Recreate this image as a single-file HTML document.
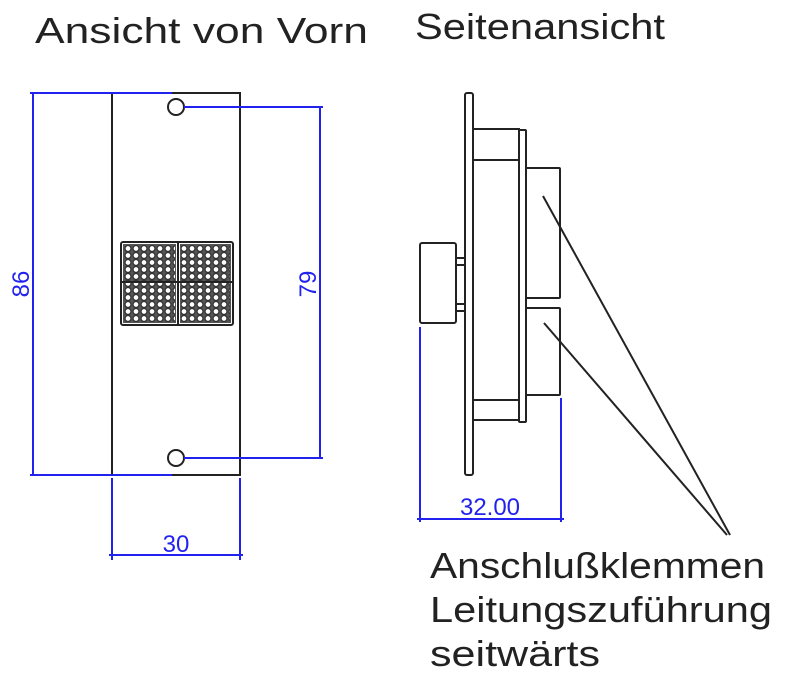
<!DOCTYPE html>
<html><head><meta charset="utf-8"><style>html,body{margin:0;padding:0;background:#fff}svg{display:block}</style></head>
<body>
<svg width="785" height="678" viewBox="0 0 785 678" xmlns="http://www.w3.org/2000/svg" font-family="Liberation Sans, sans-serif">
<g font-size="36" fill="#222">
<text x="35" y="43" textLength="333" lengthAdjust="spacingAndGlyphs">Ansicht von Vorn</text>
<text x="415" y="39" textLength="250" lengthAdjust="spacingAndGlyphs">Seitenansicht</text>
<text x="430" y="578" textLength="335" lengthAdjust="spacingAndGlyphs">Anschlußklemmen</text>
<text x="430" y="622" textLength="342" lengthAdjust="spacingAndGlyphs">Leitungszuführung</text>
<text x="430" y="666" textLength="170" lengthAdjust="spacingAndGlyphs">seitwärts</text>
</g>
<g stroke="#222" stroke-width="2" fill="none">
<rect x="112" y="93" width="128" height="382"/>
<circle cx="176" cy="107" r="8"/>
<circle cx="176" cy="458" r="8"/>
<rect x="121" y="242" width="112" height="83" rx="2"/>
<line x1="178" y1="242" x2="178" y2="325"/>
<line x1="121" y1="282" x2="233" y2="282"/>
</g>
<defs><pattern id="dots" x="124" y="245" width="8" height="7" patternUnits="userSpaceOnUse"><circle cx="4" cy="3.5" r="3" fill="#fff" stroke="#333" stroke-width="1.3"/></pattern></defs>
<rect x="123" y="244" width="53" height="79" fill="#555"/>
<rect x="180" y="244" width="51" height="79" fill="#555"/>
<rect x="124" y="245" width="51" height="77" fill="url(#dots)"/>
<rect x="181" y="245" width="49" height="77" fill="url(#dots)"/>
<line x1="121" y1="282" x2="233" y2="282" stroke="#222" stroke-width="2"/>
<g stroke="#2222ee" stroke-width="2" fill="none">
<line x1="30" y1="93" x2="172" y2="93"/>
<line x1="30" y1="475" x2="172" y2="475"/>
<line x1="33" y1="93" x2="33" y2="475"/>
<line x1="184" y1="107" x2="323" y2="107"/>
<line x1="184" y1="458" x2="323" y2="458"/>
<line x1="320" y1="107" x2="320" y2="458"/>
<line x1="112" y1="478" x2="112" y2="560"/>
<line x1="240" y1="478" x2="240" y2="560"/>
<line x1="109" y1="555" x2="243" y2="555"/>
<line x1="420" y1="327" x2="420" y2="522"/>
<line x1="561" y1="398" x2="561" y2="522"/>
<line x1="417" y1="519" x2="564" y2="519"/>
</g>
<g fill="#2222ee" font-size="24">
<text x="176" y="552" text-anchor="middle">30</text>
<text transform="translate(29,284) rotate(-90)" text-anchor="middle">86</text>
<text transform="translate(316,284) rotate(-90)" text-anchor="middle">79</text>
<text x="490" y="515" text-anchor="middle">32.00</text>
</g>
<g stroke="#222" stroke-width="2" fill="none">
<rect x="465" y="93" width="8" height="382" rx="2"/>
<rect x="473" y="129" width="46" height="31"/>
<rect x="473" y="400" width="46" height="20"/>
<rect x="519" y="130" width="7" height="292" rx="1"/>
<rect x="526" y="168" width="34" height="130" rx="1"/>
<rect x="526" y="308" width="34" height="87" rx="1"/>
<rect x="420" y="243" width="36" height="80" rx="2"/>
<rect x="456" y="258" width="9" height="7"/>
<rect x="456" y="304" width="9" height="7"/>
<line x1="543" y1="196" x2="730" y2="535"/>
<line x1="544" y1="323" x2="727" y2="535"/>
</g>
</svg>
</body></html>
